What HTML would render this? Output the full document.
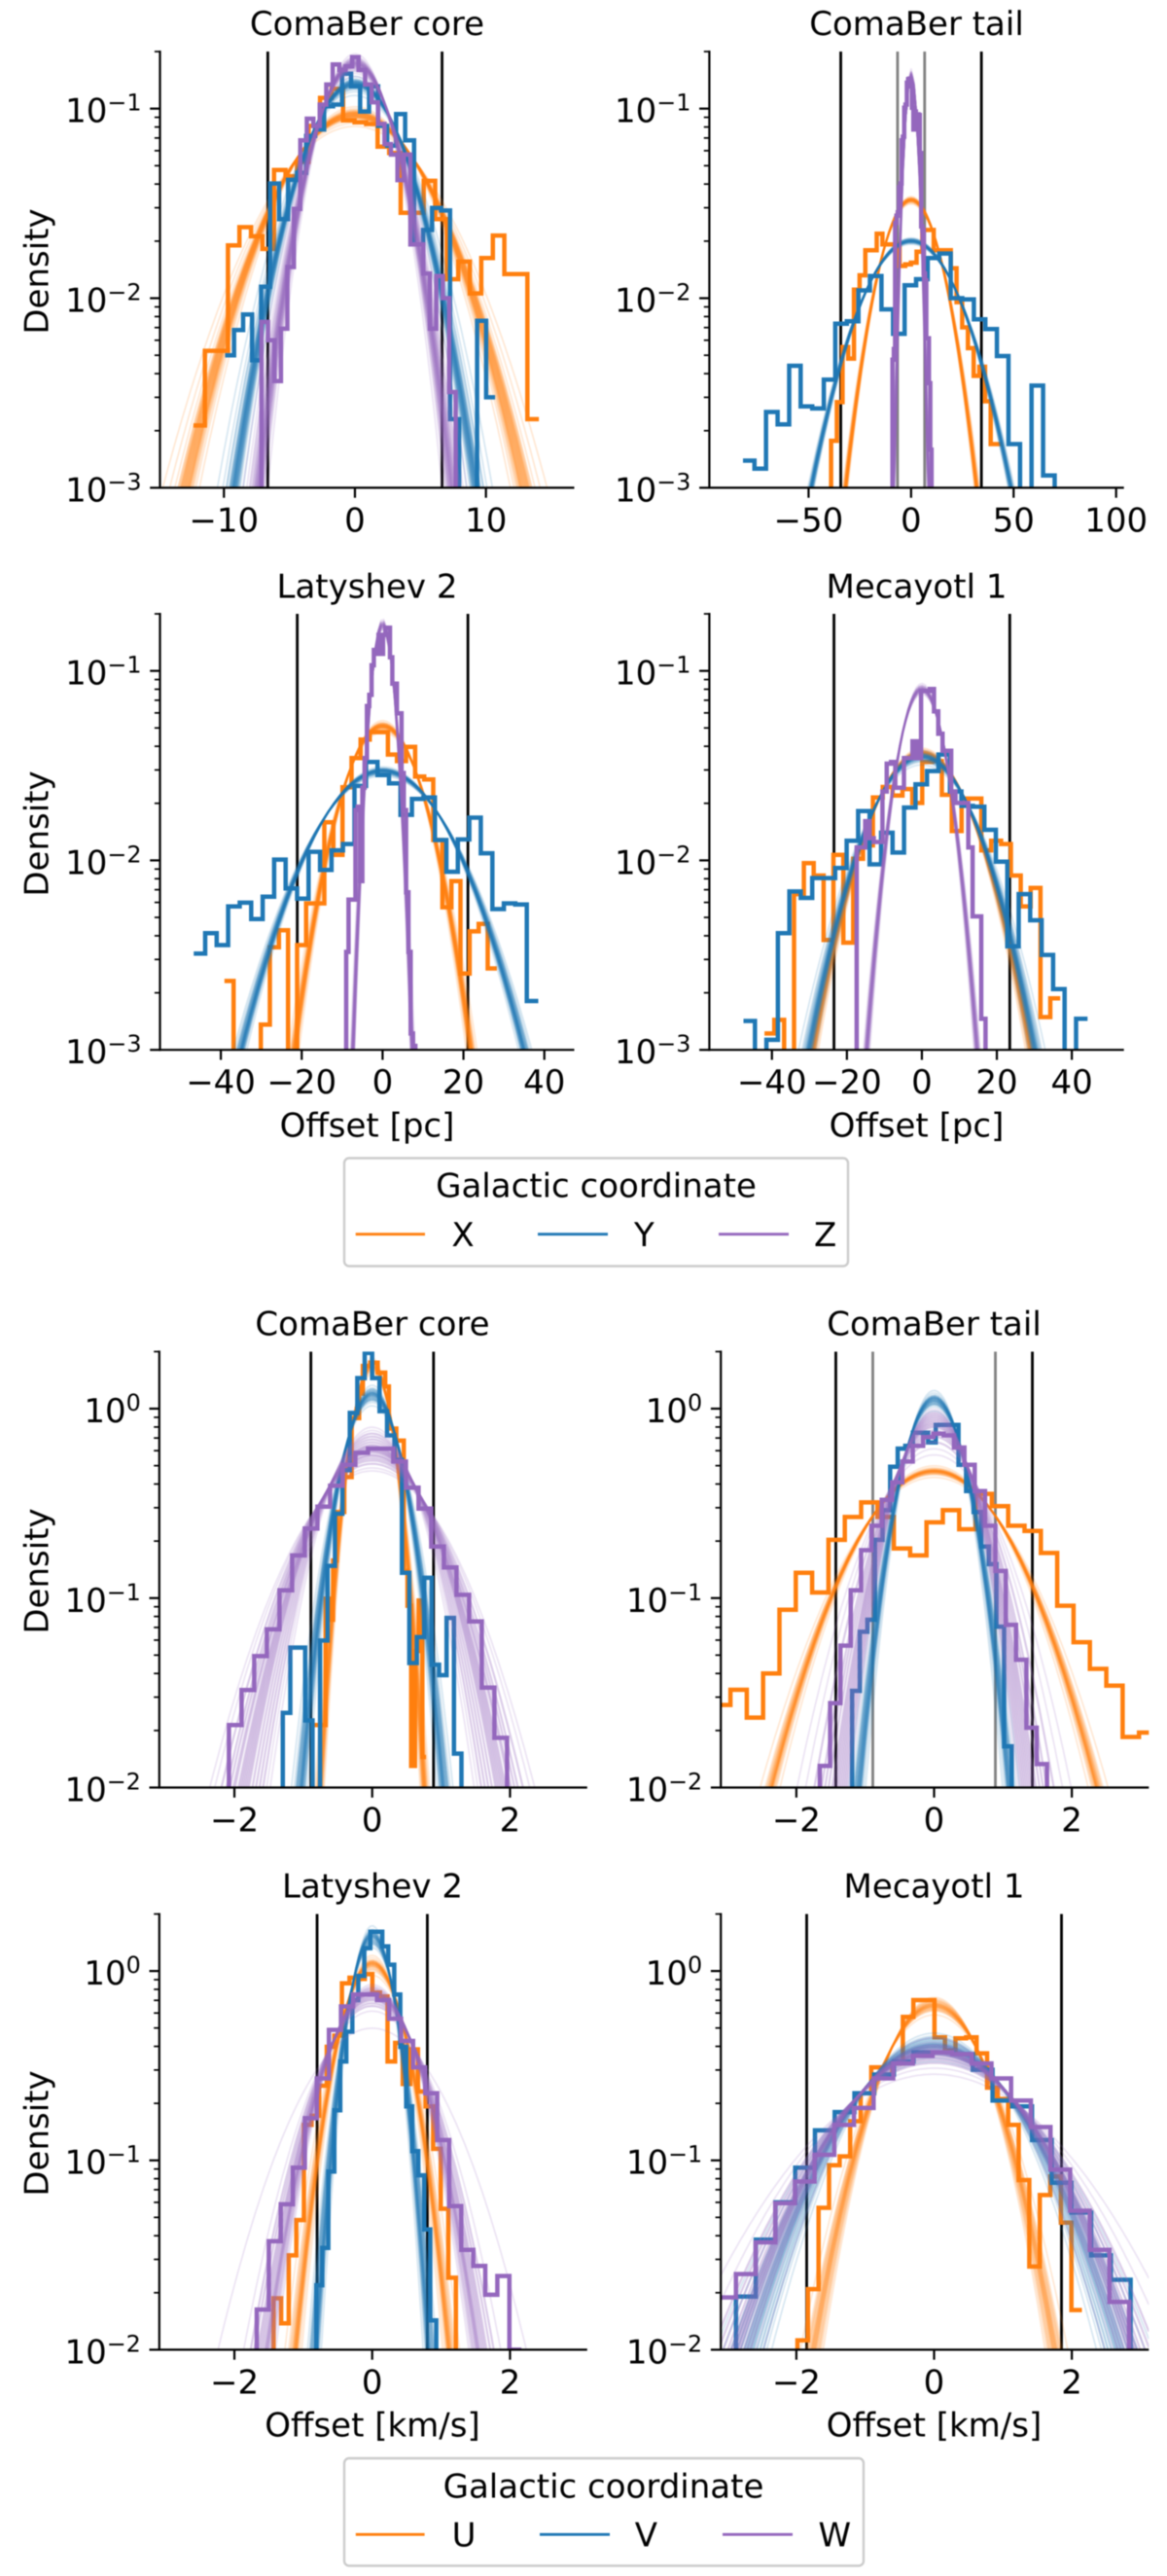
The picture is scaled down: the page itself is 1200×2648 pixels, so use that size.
<!DOCTYPE html>
<html>
<head>
<meta charset="utf-8">
<title>Density of offsets</title>
<style>
html,body{margin:0;padding:0;background:#fff;}
svg{display:block;filter:blur(0.45px);}
text{font-family:"DejaVu Sans","Liberation Sans",sans-serif;font-size:34px;fill:#000;text-rendering:geometricPrecision;}
</style>
</head>
<body>
<svg id="figure" xmlns="http://www.w3.org/2000/svg" width="1200" height="2648" viewBox="0 0 1200 2648">
<rect x="0" y="0" width="1200" height="2648" fill="#fff"/>
<g id="panels"></g>

<text x="377.5" y="36" text-anchor="middle">ComaBer core</text>
<text x="942.5" y="36" text-anchor="middle">ComaBer tail</text>
<text x="377.5" y="614.4" text-anchor="middle">Latyshev 2</text>
<text x="942.5" y="614.4" text-anchor="middle">Mecayotl 1</text>
<text x="383" y="1372.5" text-anchor="middle">ComaBer core</text>
<text x="960.5" y="1372.5" text-anchor="middle">ComaBer tail</text>
<text x="383" y="1950.5" text-anchor="middle">Latyshev 2</text>
<text x="960.5" y="1950.5" text-anchor="middle">Mecayotl 1</text>

<text transform="translate(49.7,279) rotate(-90)" text-anchor="middle">Density</text>
<text transform="translate(49.7,857) rotate(-90)" text-anchor="middle">Density</text>
<text transform="translate(49.7,1615) rotate(-90)" text-anchor="middle">Density</text>
<text transform="translate(49.7,2193) rotate(-90)" text-anchor="middle">Density</text>

<text x="377.5" y="1168.6" text-anchor="middle">Offset [pc]</text>
<text x="942.5" y="1168.6" text-anchor="middle">Offset [pc]</text>
<text x="383" y="2504.4" text-anchor="middle">Offset [km/s]</text>
<text x="960.5" y="2504.4" text-anchor="middle">Offset [km/s]</text>

<g>
  <rect x="354" y="1190.5" width="518" height="111" rx="5" fill="#fff" stroke="#cccccc" stroke-width="2.4"/>
  <text x="613" y="1230.7" text-anchor="middle">Galactic coordinate</text>
  <line x1="365.7" x2="437" y1="1268.7" y2="1268.7" stroke="#ff7f0e" stroke-width="2.9"/>
  <text x="464.4" y="1281">X</text>
  <line x1="553" x2="625" y1="1268.7" y2="1268.7" stroke="#1f77b4" stroke-width="2.9"/>
  <text x="652" y="1281">Y</text>
  <line x1="739" x2="811" y1="1268.7" y2="1268.7" stroke="#9467bd" stroke-width="2.9"/>
  <text x="837" y="1281">Z</text>
</g>
<g>
  <rect x="354" y="2527" width="534" height="110.5" rx="5" fill="#fff" stroke="#cccccc" stroke-width="2.4"/>
  <text x="620.5" y="2567.7" text-anchor="middle">Galactic coordinate</text>
  <line x1="365.8" x2="436.6" y1="2605.3" y2="2605.3" stroke="#ff7f0e" stroke-width="2.9"/>
  <text x="464.6" y="2617.3">U</text>
  <line x1="555" x2="627" y1="2605.3" y2="2605.3" stroke="#1f77b4" stroke-width="2.9"/>
  <text x="652.8" y="2617.3">V</text>
  <line x1="743" x2="815" y1="2605.3" y2="2605.3" stroke="#9467bd" stroke-width="2.9"/>
  <text x="841.5" y="2617.3">W</text>
</g>
</svg>
<script>
// ---------- histogram densities ----------
const coreX=[.00213,.00528,.00528,.019,.0237,.0212,.0182,.0475,.044,.0524,.0811,.114,.127,.0866,.0847,.0829,.063,.0584,.0282,.0282,.0416,.0261,.0126,.0156,.0106,.0163,.0214,.0134,.0134,.0023];
const coreY=[.005,.0068,.0082,.0047,.0115,.0403,.0261,.0421,.0459,.0718,.0776,.103,.105,.153,.131,.0966,.131,.0811,.0638,.0937,.068,.0192,.0229,.0299,.029,.0023,0,0,.0076,.003];
const coreZ=[0,.0075,.006,.00365,.0069,.0146,.0296,.0681,.0885,.081,.105,.134,.171,.16,.167,.187,.16,.134,.108,.083,.065,.0572,.042,.0572,.0192,.0192,.0135,.0069,.0131,.01,.0032,0];
const tailX=[0,.00177,.00283,.00552,.0048,.0111,.0132,.0179,.0179,.0219,.0192,.0192,.0192,.0148,.0151,.0154,.0176,.0229,.0229,.0179,.0179,.0179,.0144,.00953,.00702,.00545,.00389,.00435,.00286,.0017,.0017];
const tailY=[.00139,.00126,.00251,.00216,.0044,.00269,.00262,.00372,.00733,.00756,.011,.0131,.00873,.00649,.0117,.0126,.0163,.0172,.01,.00986,.00773,.00687,.00495,.0017,0,.00346,.00116,0];
const tailZ=[0,.00474,.0054,.0249,.0272,.0284,.0385,.0403,.0681,.0711,.101,.105,.137,.143,.144,.131,.101,.0776,.0966,.0811,.0933,.0925,.0584,.0239,.0229,.0135,.0124,.00615,.00615,.00356,.00159,0];
const latX=[.00231,0,0,0,.00136,.00348,.00428,0,.00357,.00593,.00593,.0159,.0107,.0243,.0347,.0434,.0475,.0475,.0362,.0334,.0397,.0277,.0267,.0128,.00566,.00778,.00253,.00422,.00462,.00269];
const latY=[.00322,.00413,.00357,.00571,.00598,.0049,.00643,.0101,.00711,.00628,.0111,.00891,.0113,.0122,.0247,.0331,.0282,.0255,.0174,.0211,.0215,.0128,.00871,.0129,.0168,.0109,.00553,.00593,.00585,.00181];
const latZ=[0,.00329,.00621,.00621,.00621,.0184,.0192,.00778,.0242,.0347,.0653,.0748,.107,.129,.123,.155,.123,.155,.169,.169,.118,.0857,.0857,.0597,.0597,.0289,.0184,.00679,.00329,.00122,.00105,0];
const mecX=[.00122,.00144,0,.00664,.00966,.00832,.0038,.0107,.00368,.0102,.012,.0215,.0244,.022,.0238,.0201,.0331,.0334,.0222,.0143,.0212,.0212,.0113,.0127,.0122,.00832,.00571,.00716,.00149,.00187];
const mecY=[.00142,0,.00113,.00413,.00685,.00634,.00807,.00807,.00912,.0127,.0182,.00953,.014,.011,.019,.0252,.0296,.0362,.0231,.0194,.0192,.0145,.00984,.00352,.00664,.00483,.00317,.00209,0,.00146];
const mecZ=[0,.0117,.0117,.0161,.0131,.0125,.0125,.0231,.0324,.0331,.0242,.0242,.0347,.0347,.0425,.0347,.0783,.0783,.0802,.0611,.0466,.0379,.0379,.0231,.0201,.0201,.0201,.0117,.00506,.00506,.00146,0];
const coreU=[.0214,.0214,.0214,.0992,.0769,.158,.285,.285,.435,.435,.892,.892,1.2,1.68,1.68,1.75,1.75,1.55,1.55,1.31,.785,.785,.678,.678,.139,.0912,.013,.0526,.0971,.0145];
const coreV=[0,.0248,.0548,.0548,.0226,0,.0597,.148,.279,.473,.95,1.45,1.97,1.45,.97,.723,.537,.136,.0454,.0622,.128,.0445,.0392,.0786,.0151,0];
const coreW=[0,.0214,.0327,.0494,.0684,.11,.168,.233,.304,.392,.505,.585,.615,.615,.526,.383,.297,.187,.145,.104,.0753,.0337,.0183,0];
const tailU=[.0273,.0328,.0234,.04,.0867,.136,.107,.203,.268,.32,.268,.183,.168,.251,.291,.231,.355,.306,.241,.226,.173,.0912,.0585,.0423,.0345,.0185,.0195];
const tailV=[0,.0324,.0664,.0769,.203,.291,.494,.615,.637,.747,.747,.664,.82,.82,.82,.505,.367,.285,.187,.151,.0707,.0165,0];
const tailW=[0,.013,.0279,.0561,.11,.179,.241,.33,.408,.526,.637,.708,.738,.723,.623,.505,.367,.241,.139,.0723,.0473,.0207,.0133,0];
const latU=[0,.0187,.0138,.0315,.0484,.154,.172,.248,.398,.456,.861,.922,.909,.964,.769,.734,.333,.417,.253,.386,.231,.193,.115,.0555,.024,0];
const latV=[0,.0219,.0345,.0873,.184,.333,.478,.702,.942,1.32,1.61,1.61,1.35,1.08,.752,.398,.193,.112,.0834,.0432,.0143,0];
const latW=[0,.0163,.0374,.0586,.0914,.167,.271,.489,.65,.752,.752,.702,.56,.427,.31,.226,.128,.0573,.0337,.0277,.0195,.0245,.01];
const mecU=[0,.0112,.0209,.0562,.0942,.105,.161,.226,.31,.284,.325,.573,.702,.702,.447,.381,.441,.447,.367,.242,.211,.154,.0787,.0275,.0656,.0823,.0469,.0162];
const mecV=[0,.0191,.0381,.06,.0914,.144,.18,.226,.284,.333,.372,.372,.364,.301,.207,.193,.128,.0762,.053,.0315,.0234,0];
const mecW=[.0189,.0251,.0369,.0594,.0773,.107,.154,.189,.271,.325,.356,.372,.364,.325,.271,.207,.15,.0893,.0542,.0337,.0179,0];

// ---------- histogram bins per panel: [first, second, third series] ----------
const binStartCoreP=[-12.33,-9.91,-7.624], binWidthCoreP=[.879,.687,.494];
const binStartTailP=[-41.78,-82.0,-9.705], binWidthTailP=[2.78,5.63,.635];
const binStartLatP=[-39.1,-46.7,-9.57], binWidthLatP=[2.245,2.84,.57];
const binStartMecP=[-42.0,-47.6,-18.546], binWidthMecP=[2.63,3.06,1.146];
const binStartCoreV=[-.838,-1.405,-2.2635], binWidthCoreV=[.054,.108,.1835];
const binStartTailV=[-3.195,-1.3003,-1.81], binWidthTailV=[.2373,.1103,.15];
const binStartLatV=[-1.5423,-.898,-1.8506], binWidthLatV=[.1103,.087,.1746];
const binStartMecV=[-2.137,-3.1625,-3.162], binWidthMecV=[.153,.2865,.2854];

// ---------- posterior draws of the dispersion, per series ----------
const sigCoreX=[3.9,4.0,4.05,4.1,4.15,4.18,4.2,4.22,4.25,4.27,4.3,4.32,4.35,4.37,4.4,4.42,4.45,4.5,4.6,4.75,4.95];
const sigCoreY=[2.7,2.78,2.82,2.85,2.87,2.89,2.9,2.92,2.93,2.95,2.96,2.97,2.98,3.0,3.02,3.04,3.07,3.15,3.25,3.4];
const sigCoreZ=[2.05,2.12,2.16,2.2,2.22,2.24,2.26,2.28,2.29,2.3,2.32,2.33,2.35,2.37,2.39,2.42,2.46,2.52,2.6,2.7];
const sigTailX=[11.6,11.75,11.85,11.9,11.95,12.0,12.03,12.05,12.1,12.13,12.15,12.2,12.25,12.3,12.4,12.55,12.7];
const sigTailY=[19.2,19.4,19.5,19.6,19.7,19.8,19.85,19.9,19.9,20.0,20.05,20.1,20.2,20.3,20.5,20.7];
const sigTailZ=[2.45,2.52,2.56,2.6,2.62,2.64,2.65,2.66,2.68,2.7,2.72,2.75,2.78,2.85];
const sigLatX=[7.3,7.45,7.55,7.6,7.65,7.7,7.72,7.75,7.78,7.8,7.85,7.88,7.9,7.95,8.0,8.1,8.2,8.4];
const sigLatY=[12.8,13.0,13.1,13.2,13.25,13.3,13.35,13.4,13.42,13.45,13.5,13.55,13.6,13.7,13.8,13.9,14.1,14.3];
const sigLatZ=[2.12,2.16,2.19,2.21,2.23,2.25,2.26,2.27,2.28,2.3,2.31,2.33,2.35,2.38,2.42,2.5];
const sigMecX=[10.2,10.35,10.5,10.6,10.65,10.7,10.75,10.78,10.8,10.85,10.9,10.95,11.0,11.1,11.2,11.35];
const sigMecY=[10.5,10.7,10.9,11.0,11.1,11.15,11.2,11.25,11.3,11.35,11.4,11.45,11.5,11.6,11.7,11.9,12.1,12.5];
const sigMecZ=[4.65,4.75,4.8,4.85,4.9,4.92,4.95,4.97,5.0,5.02,5.05,5.1,5.15,5.2,5.3];
const sigCoreU=[.215,.22,.225,.228,.23,.232,.235,.237,.238,.24,.243,.245,.25,.255,.262];
const sigCoreV=[.3,.31,.315,.32,.325,.328,.33,.332,.335,.338,.34,.345,.35,.355,.36,.37,.385];
const sigCoreW=[.5,.52,.54,.56,.58,.6,.62,.63,.64,.65,.66,.67,.68,.7,.71,.73,.75,.78,.82,.85];
const sigTailU=[.8,.82,.83,.84,.845,.848,.85,.853,.855,.86,.865,.87,.88,.89,.92];
const sigTailV=[.32,.33,.34,.345,.348,.35,.353,.355,.36,.362,.365,.37,.375,.38,.39,.41];
const sigTailW=[.4,.41,.42,.43,.44,.45,.46,.47,.48,.49,.5,.52,.54,.56,.6,.65,.7];
const sigLatU=[.33,.34,.35,.355,.358,.36,.362,.365,.368,.37,.375,.38,.39,.4,.42];
const sigLatV=[.23,.24,.245,.25,.253,.255,.258,.26,.263,.265,.27,.275,.28,.285,.29,.3];
const sigLatW=[.47,.48,.49,.5,.51,.515,.52,.525,.53,.54,.55,.56,.57,.59,.61,.65,.8];
const sigMecU=[.55,.56,.57,.58,.59,.595,.6,.605,.61,.615,.62,.63,.64,.65,.68];
const sigMecV=[.85,.88,.9,.92,.94,.96,.97,.98,.99,1.0,1.01,1.02,1.04,1.06,1.08,1.1,1.15,1.2];
const sigMecW=[.9,.95,.98,1.0,1.02,1.04,1.05,1.06,1.07,1.08,1.09,1.1,1.12,1.15,1.18,1.22,1.3,1.4];

// ---------- reference lines, ticks and axis limits ----------
const refBlack=[6.65,34.3,21.1,23.45,.89,1.427,.8,1.85];
const refGray=[null,6.6,null,null,null,.89,null,null];
const ticksCoreP=[-10,0,10], ticksTailP=[-50,0,50,100], ticksLat=[-40,-20,0,20,40], ticksMec=[-40,-20,0,20,40], ticksVel=[-2,0,2];
const yRangeP=[.001,.2], yRangeV=[.01,2];
const yExpP=[-3,-2,-1], yExpV=[-2,-1,0];
const xLims=[[-14.88,16.74],[-98.4,103.8],[-55.05,47.4],[-56.7,53.9],[-3.09,3.12],[-3.097,3.118],[-3.09,3.12],[-3.097,3.118]];

const seriesColors=['#ff7f0e','#1f77b4','#9467bd'];
const NS='http://www.w3.org/2000/svg';
const boxes=[[164.5,590.5,53,501.4],[729.4,1155.7,53,501.4],[164.5,590.5,631,1079.2],[729.4,1155.7,631,1079.2],
             [163.8,603.8,1389.4,1837.5],[741.2,1181.3,1389.4,1837.5],[163.8,603.8,1967.5,2415.4],[741.2,1181.3,1967.5,2415.4]];
const panels=[
 {hist:[coreX,coreY,coreZ],sig:[sigCoreX,sigCoreY,sigCoreZ],start:binStartCoreP,width:binWidthCoreP,ticks:ticksCoreP,yr:yRangeP,ye:yExpP},
 {hist:[tailX,tailY,tailZ],sig:[sigTailX,sigTailY,sigTailZ],start:binStartTailP,width:binWidthTailP,ticks:ticksTailP,yr:yRangeP,ye:yExpP},
 {hist:[latX,latY,latZ],sig:[sigLatX,sigLatY,sigLatZ],start:binStartLatP,width:binWidthLatP,ticks:ticksLat,yr:yRangeP,ye:yExpP},
 {hist:[mecX,mecY,mecZ],sig:[sigMecX,sigMecY,sigMecZ],start:binStartMecP,width:binWidthMecP,ticks:ticksMec,yr:yRangeP,ye:yExpP},
 {hist:[coreU,coreV,coreW],sig:[sigCoreU,sigCoreV,sigCoreW],start:binStartCoreV,width:binWidthCoreV,ticks:ticksVel,yr:yRangeV,ye:yExpV},
 {hist:[tailU,tailV,tailW],sig:[sigTailU,sigTailV,sigTailW],start:binStartTailV,width:binWidthTailV,ticks:ticksVel,yr:yRangeV,ye:yExpV},
 {hist:[latU,latV,latW],sig:[sigLatU,sigLatV,sigLatW],start:binStartLatV,width:binWidthLatV,ticks:ticksVel,yr:yRangeV,ye:yExpV},
 {hist:[mecU,mecV,mecW],sig:[sigMecU,sigMecV,sigMecW],start:binStartMecV,width:binWidthMecV,ticks:ticksVel,yr:yRangeV,ye:yExpV}
];

function make(tag,attrs,parent){
  const el=document.createElementNS(NS,tag);
  for(const k in attrs){el.setAttribute(k,attrs[k]);}
  parent.appendChild(el);
  return el;
}
function gaussian(x,s){return Math.exp(-x*x/(2*s*s))/(s*Math.sqrt(2*Math.PI));}

const root=document.getElementById('panels');
panels.forEach(function(p,i){
  const b=boxes[i], lim=xLims[i];
  const X=function(v){return b[0]+(v-lim[0])/(lim[1]-lim[0])*(b[1]-b[0]);};
  const ly0=Math.log10(p.yr[0]), ly1=Math.log10(p.yr[1]);
  const Y=function(v){
    if(v<=0){return b[3]+30;}
    return Math.min(b[3]+30,b[3]-(Math.log10(v)-ly0)/(ly1-ly0)*(b[3]-b[2]));
  };
  const g=make('g',{},root);
  
  

  const clip=make('clipPath',{id:'clip'+i},g);
  
  
  const clipRect=make('rect',{x:b[0],y:b[2],width:b[1]-b[0],height:b[3]-b[2]},clip);
  
  

  const plot=make('g',{'clip-path':'url(#clip'+i+')'},g);
  
  

  [-1,1].forEach(function(side){
    if(refGray[i]!==null){
      const lg=make('line',{x1:X(side*refGray[i]),x2:X(side*refGray[i]),y1:b[2],y2:b[3],stroke:'#808080','stroke-width':2.8},plot);
      
      
    }
    const lb=make('line',{x1:X(side*refBlack[i]),x2:X(side*refBlack[i]),y1:b[2],y2:b[3],stroke:'#000','stroke-width':2.8},plot);
    
    
  });

  p.hist.forEach(function(h,k){
    const color=seriesColors[k];
    const draws=p.sig[k];
    draws.forEach(function(s,r){
      const rank=r/(draws.length-1);
      const central=rank>0.1&&rank<0.9;
      let d='';
      for(let n=0;n<=150;n++){
        const v=lim[0]+(lim[1]-lim[0])*n/150;
        d+=(n?'L':'M')+X(v).toFixed(1)+' '+Y(gaussian(v,s)).toFixed(1);
      }
      const fan=make('path',{d:d,fill:'none',stroke:color,'stroke-width':central?2.2:1.8,'stroke-opacity':central?0.33:0.17},plot);
      
      
    });
    let d='M'+X(p.start[k]).toFixed(1)+' '+Y(h[0]).toFixed(1);
    h.forEach(function(v,n){
      d+='V'+Y(v).toFixed(1)+'H'+X(p.start[k]+(n+1)*p.width[k]).toFixed(1);
    });
    const hist=make('path',{d:d,fill:'none',stroke:color,'stroke-width':4.5,'stroke-linejoin':'miter'},plot);
    
    
  });

  const sl=make('line',{x1:b[0],x2:b[0],y1:b[2]-1,y2:b[3]+1,stroke:'#000','stroke-width':2.2},g);
  
  
  const sb=make('line',{x1:b[0]-1,x2:b[1],y1:b[3],y2:b[3],stroke:'#000','stroke-width':2.2},g);
  
  

  p.ticks.forEach(function(t){
    const tx=make('line',{x1:X(t),x2:X(t),y1:b[3],y2:b[3]+10.3,stroke:'#000','stroke-width':2.2},g);
    
    
    const lab=make('text',{x:X(t),y:b[3]+45,'text-anchor':'middle'},g);
    
    
    lab.textContent=(t<0?'\u2212':'')+Math.abs(t);
  });

  p.ye.forEach(function(e){
    const y=Y(Math.pow(10,e));
    const ty=make('line',{x1:b[0]-10.3,x2:b[0],y1:y,y2:y,stroke:'#000','stroke-width':2.2},g);
    
    
    const lab=make('text',{x:b[0]-19,y:y+14,'text-anchor':'end'},g);
    
    
    lab.appendChild(document.createTextNode('10'));
    const sup=make('tspan',{dy:-12,'font-size':'23.8px'},lab);
    
    
    sup.textContent=(e<0?'\u2212':'')+Math.abs(e);
    for(let m=2;m<=9;m++){
      const mv=m*Math.pow(10,e);
      if(mv>p.yr[1]){continue;}
      const my=Y(mv);
      const mt=make('line',{x1:b[0]-5.6,x2:b[0],y1:my,y2:my,stroke:'#000','stroke-width':1.7},g);
      
      
    }
  });
});
</script>
</body>
</html>
